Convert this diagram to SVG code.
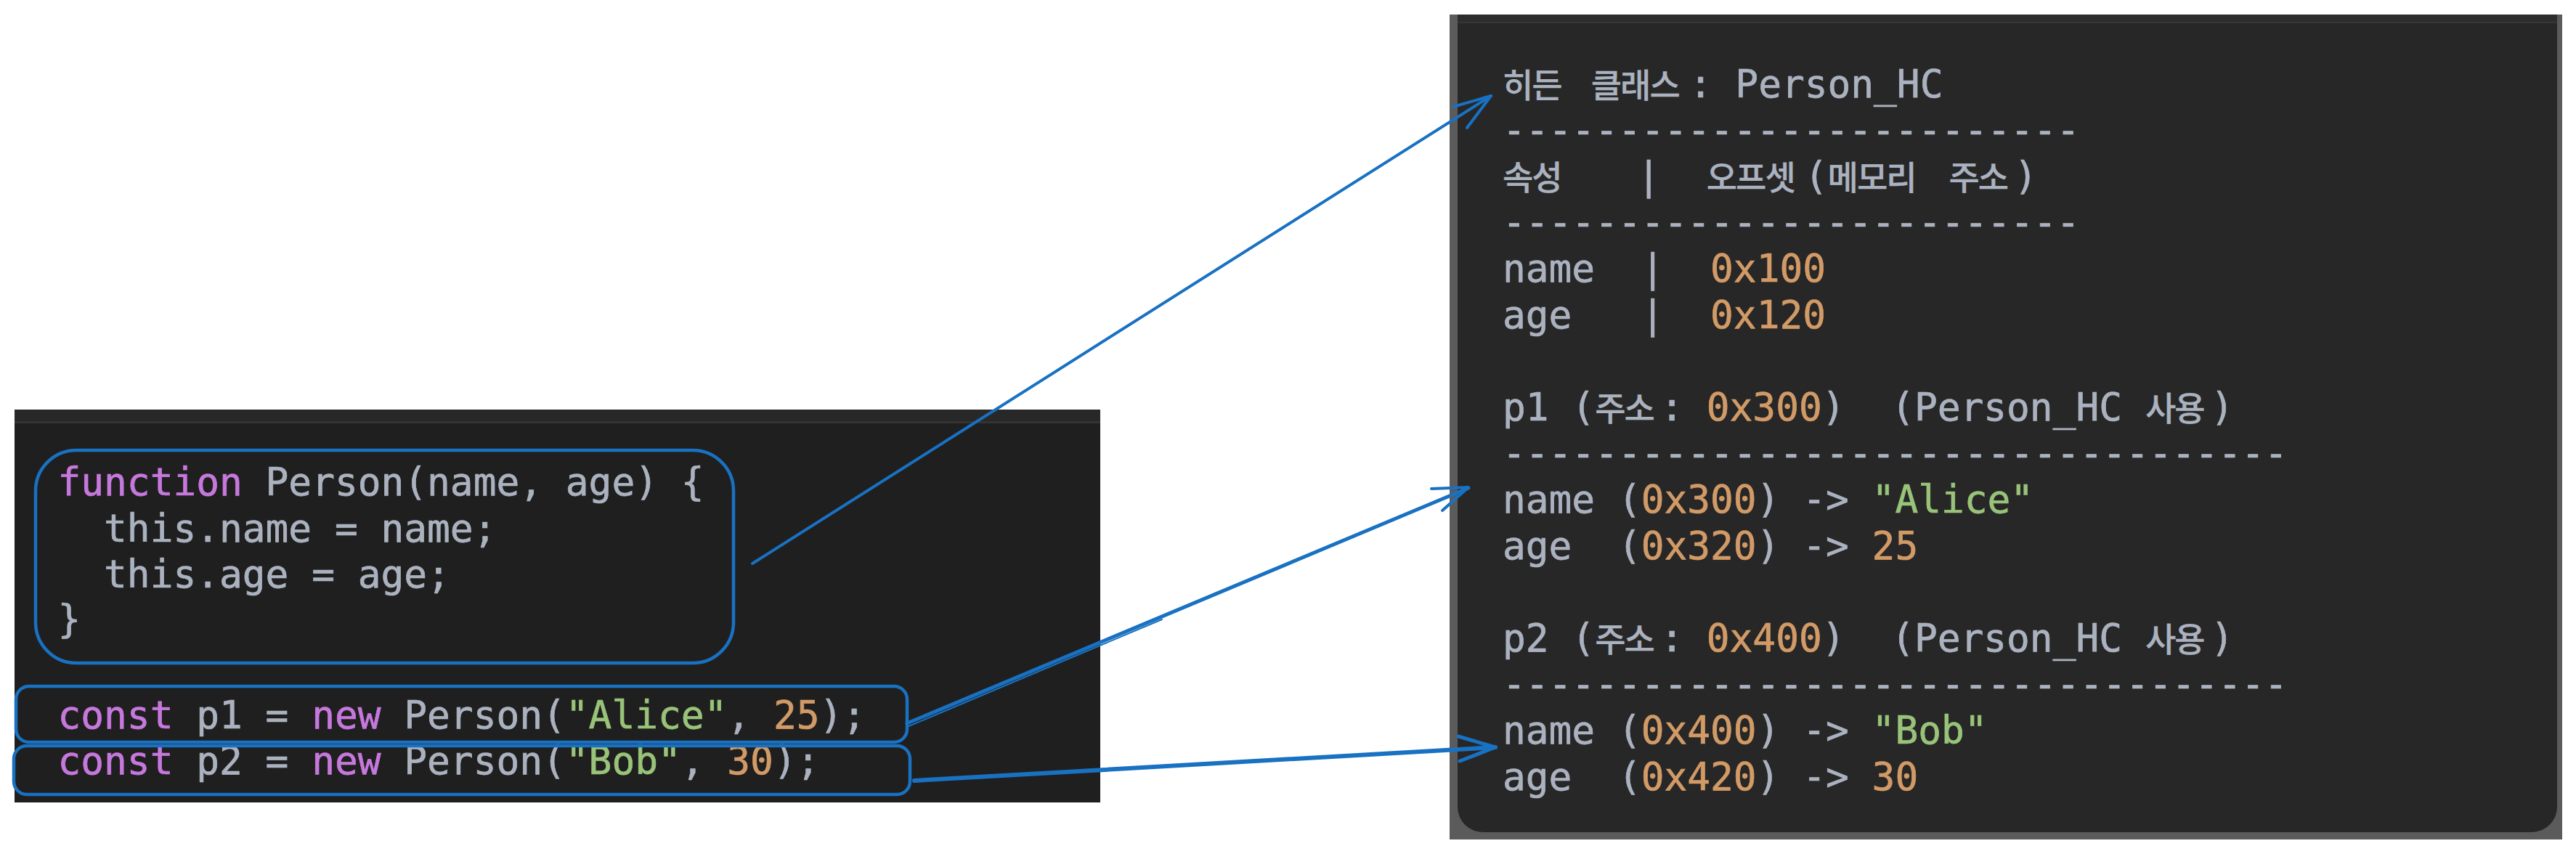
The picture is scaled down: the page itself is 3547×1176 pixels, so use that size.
<svg xmlns="http://www.w3.org/2000/svg" width="3547" height="1176" viewBox="0 0 3547 1176" xml:space="preserve">
<style>
text { font-family: "DejaVu Sans Mono", "Liberation Mono", monospace; font-size: 52.8px; fill: #abb2bf; stroke: #abb2bf; stroke-width: 0.7px; white-space: pre; }
.ko { font-family: "Noto Sans CJK KR", "DejaVu Sans", sans-serif; font-size: 46px; font-weight: 500; letter-spacing: -2px; stroke-width: 0.3px; }
.kw { fill: #c678dd; stroke: #c678dd; }
.num { fill: #d19a66; stroke: #d19a66; }
.str { fill: #98c379; stroke: #98c379; }
.box { fill: none; stroke: #1971c2; stroke-width: 4.5; stroke-linejoin: round; }
.conn { fill: none; stroke: #1971c2; stroke-linecap: round; stroke-linejoin: round; }
</style>
<rect width="3547" height="1176" fill="#ffffff"/>

<g id="code-panel">
  <rect x="20" y="564" width="1495" height="541" fill="#1f1f1f"/>
  <rect x="20" y="564" width="1495" height="17" fill="#282828"/>
  <line x1="20" y1="581.5" x2="1515" y2="581.5" stroke="#333333" stroke-width="3"/>
  <text x="79.5" y="682"><tspan class="kw">function</tspan> Person(name, age) {</text>
  <text x="79.5" y="745.5">  this.name = name;</text>
  <text x="79.5" y="808.5">  this.age = age;</text>
  <text x="79.5" y="871">}</text>
  <text x="79.5" y="1002.5"><tspan class="kw">const</tspan> p1 = <tspan class="kw">new</tspan> Person(<tspan class="str">"Alice"</tspan>, <tspan class="num">25</tspan>);</text>
  <text x="79.5" y="1066"><tspan class="kw">const</tspan> p2 = <tspan class="kw">new</tspan> Person(<tspan class="str">"Bob"</tspan>, <tspan class="num">30</tspan>);</text>
</g>

<g id="fn-box">
  <rect class="box" x="49" y="620" width="961" height="293" rx="56"/>
</g>
<g id="p1-box">
  <rect class="box" x="22" y="945" width="1227" height="77" rx="18"/>
</g>
<g id="p2-box">
  <rect class="box" x="19" y="1027" width="1234" height="67" rx="18"/>
</g>

<g id="hidden-class-panel">
  <rect x="1996" y="20" width="1532" height="1136" fill="#5b5b5b"/>
  <path d="M2007,20 H3521 V1111 A35,35 0 0 1 3486,1146 H2042 A35,35 0 0 1 2007,1111 Z" fill="#272727"/>
  <rect x="2007" y="20" width="1514" height="11" fill="#2d2d2d"/>
  <line x1="2007" y1="31" x2="3521" y2="31" stroke="#363636" stroke-width="2"/>

  <text y="134"><tspan class="ko" x="2069">히든</tspan><tspan class="ko" x="2190.8">클래스</tspan><tspan x="2325.8">: Person_HC</tspan></text>
  <text x="2069" y="197.6">-------------------------</text>
  <text y="261.2"><tspan class="ko" x="2069">속성</tspan><tspan x="2159">   |  </tspan><tspan class="ko" x="2349.8">오프셋</tspan><tspan x="2484.8">(</tspan><tspan class="ko" x="2516.6">메모리</tspan><tspan class="ko" x="2683.4">주소</tspan><tspan x="2773.4">)</tspan></text>
  <text x="2069" y="324.8">-------------------------</text>
  <text x="2069" y="388.4">name  |  <tspan class="num">0x100</tspan></text>
  <text x="2069" y="452">age   |  <tspan class="num">0x120</tspan></text>

  <text y="579.2"><tspan x="2069">p1 (</tspan><tspan class="ko" x="2196.2">주소</tspan><tspan x="2286.2">: </tspan><tspan class="num" x="2349.8">0x300</tspan><tspan x="2508.8">)  (Person_HC </tspan><tspan class="ko" x="2954">사용</tspan><tspan x="3044">)</tspan></text>
  <text x="2069" y="642.8">----------------------------------</text>
  <text x="2069" y="706.4">name (<tspan class="num">0x300</tspan>) -&gt; <tspan class="str">"Alice"</tspan></text>
  <text x="2069" y="770">age  (<tspan class="num">0x320</tspan>) -&gt; <tspan class="num">25</tspan></text>

  <text y="897.2"><tspan x="2069">p2 (</tspan><tspan class="ko" x="2196.2">주소</tspan><tspan x="2286.2">: </tspan><tspan class="num" x="2349.8">0x400</tspan><tspan x="2508.8">)  (Person_HC </tspan><tspan class="ko" x="2954">사용</tspan><tspan x="3044">)</tspan></text>
  <text x="2069" y="960.8">----------------------------------</text>
  <text x="2069" y="1024.4">name (<tspan class="num">0x400</tspan>) -&gt; <tspan class="str">"Bob"</tspan></text>
  <text x="2069" y="1088">age  (<tspan class="num">0x420</tspan>) -&gt; <tspan class="num">30</tspan></text>
</g>

<g id="connectors">
  <path class="conn" stroke-width="4" d="M1036,776 L2053,132"/>
  <path class="conn" stroke-width="4" d="M2001,147 L2053,132 L2020,176"/>
  <path class="conn" stroke-width="5" d="M1249,996 L2022,672"/>
  <path class="conn" stroke-width="2" d="M1250,1000.5 L1600,853"/>
  <path class="conn" stroke-width="4" d="M1971,673 L2022,671 L1986,703"/>
  <path class="conn" stroke-width="6" d="M1259,1075 L2059,1029"/>
  <path class="conn" stroke-width="5" d="M2008,1014 L2059,1029 L2010,1048"/>
</g>
</svg>
